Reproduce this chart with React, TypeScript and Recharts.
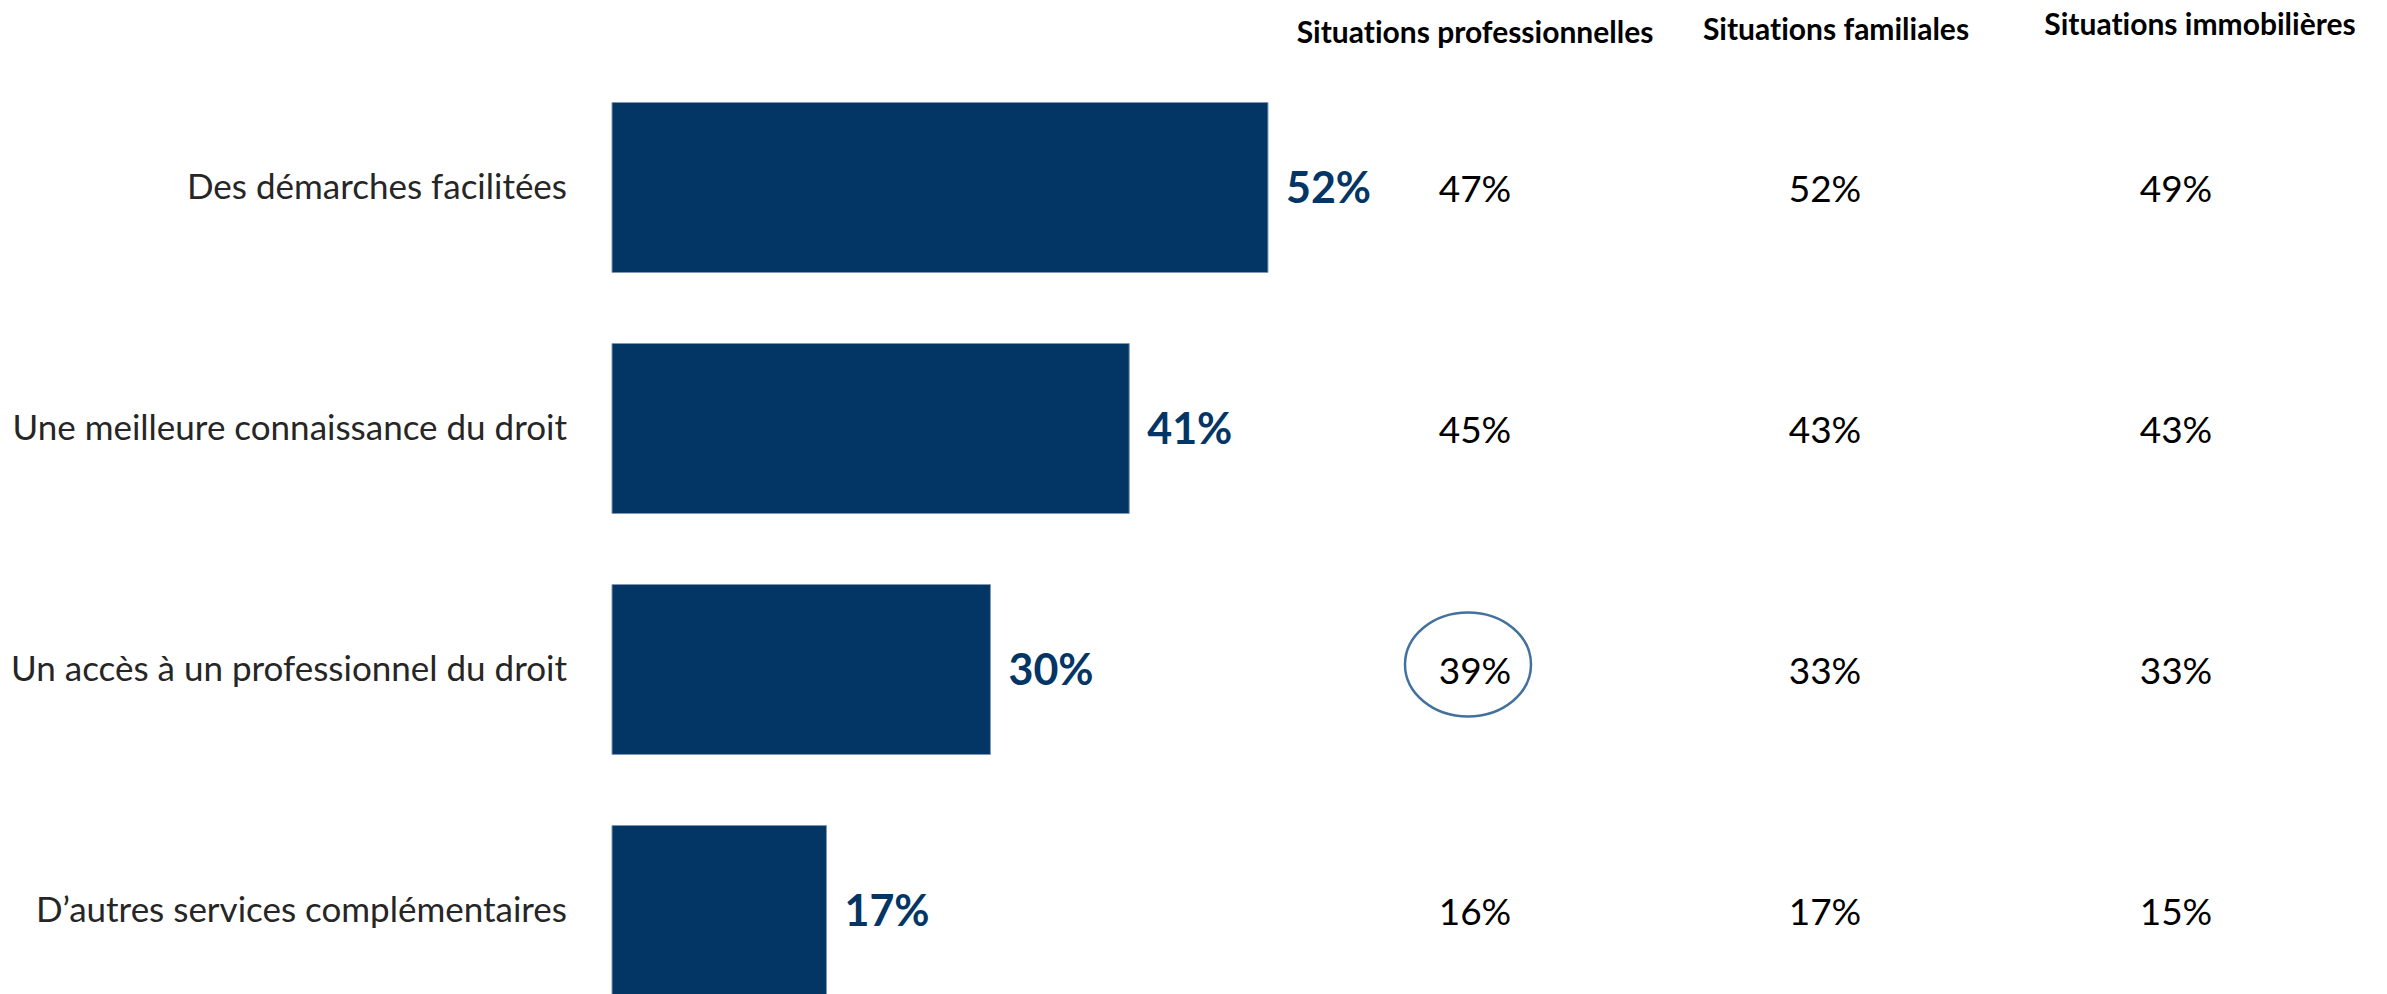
import React from 'react';
import { BarChart, Bar, XAxis, YAxis, LabelList } from 'recharts';

// answers (total) + breakdown by situation
const categories = [
  'Des démarches facilitées',
  'Une meilleure connaissance du droit',
  'Un accès à un professionnel du droit',
  'D’autres services complémentaires',
];
const totalValues = [52, 41, 30, 17];
const proValues = [47, 45, 39, 16];
const famValues = [52, 43, 33, 17];
const immoValues = [49, 43, 33, 15];
const columnHeaders = ['Situations professionnelles', 'Situations familiales', 'Situations immobilières'];
const highlighted = { column: 0, row: 2 };

const chartData = categories.map((name, i) => ({
  name,
  total: totalValues[i],
  pro: proValues[i],
  fam: famValues[i],
  immo: immoValues[i],
}));

const NAVY = '#033565';
const FONT = 'Lato, "Open Sans", sans-serif';
const COL_X = [1475, 1825, 2176];
const HEADER_X = [1475, 1836, 2200];
const HEADER_Y = [31, 28, 23];

const renderColumn = (col: number) => (props: any) => {
  const box = props.viewBox ?? props;
  const y = Number(box.y) + Number(box.height) / 2;
  const x = COL_X[col];
  const circled = highlighted.column === col && props.index === highlighted.row;
  return (
    <g>
      {circled && (
        <ellipse cx={x - 7} cy={y - 5} rx={63} ry={52} fill="none" stroke="#41719c" strokeWidth={2.5} />
      )}
      <text
        x={x}
        y={y}
        textAnchor="middle"
        dominantBaseline="central"
        fontFamily={FONT}
        fontSize={37}
        fill="#000"
      >
        {`${props.value}%`}
      </text>
    </g>
  );
};

const App = () => {
  return (
    <div
      style={{
        position: 'absolute',
        left: 0,
        top: 0,
        width: 2387,
        height: 994,
        overflow: 'hidden',
        background: '#fff',
        fontFamily: FONT,
        fontVariantLigatures: 'none',
      }}
    >
      {columnHeaders.map((h, i) => (
        <div
          key={h}
          style={{
            position: 'absolute',
            left: HEADER_X[i] - 200,
            top: HEADER_Y[i] - 18,
            width: 400,
            textAlign: 'center',
            fontWeight: 700,
            fontSize: 30,
            lineHeight: '36px',
            color: '#000',
            whiteSpace: 'nowrap',
          }}
        >
          {h}
        </div>
      ))}
      <div style={{ position: 'absolute', left: 0, top: 0 }}>
        <BarChart
          width={2387}
          height={1040}
          data={chartData}
          layout="vertical"
          margin={{ top: 66.5, right: 513.5, bottom: 9.5, left: 0 }}
        >
          <XAxis type="number" domain={[0, 100]} hide />
          <YAxis
            type="category"
            dataKey="name"
            width={612}
            axisLine={false}
            tickLine={false}
            tickSize={0}
            tickMargin={45}
            tick={{ fontSize: 35, fill: '#262626', fontFamily: FONT }}
            interval={0}
          />
          <Bar dataKey="total" fill={NAVY} stroke="#7f97b5" strokeWidth={1} barSize={170} isAnimationActive={false}>
            <LabelList
              dataKey="total"
              position="right"
              offset={18}
              formatter={(v: any) => `${v}%`}
              fill={NAVY}
              fontSize={43}
              fontWeight={700}
              fontFamily={FONT}
            />
            <LabelList dataKey="pro" content={renderColumn(0)} />
            <LabelList dataKey="fam" content={renderColumn(1)} />
            <LabelList dataKey="immo" content={renderColumn(2)} />
          </Bar>
        </BarChart>
      </div>
    </div>
  );
};

export default App;
